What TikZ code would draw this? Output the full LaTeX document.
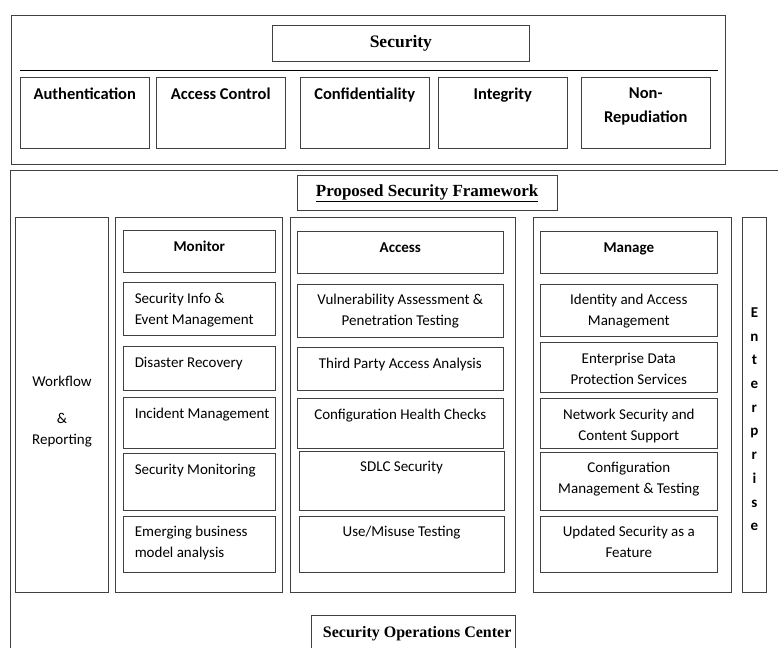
\documentclass[tikz,border=0pt]{standalone}
\usepackage{fontspec}
\setmainfont{Carlito}
\newfontfamily\titlefont{Liberation Serif}
\usetikzlibrary{positioning}

\begin{document}
\begin{tikzpicture}[x=1pt, y=-1pt, node distance=6pt, line width=0.9pt,
	box/.style={draw=black!75, inner sep=0pt, outer sep=0pt, anchor=north west},
	pillar/.style={box, minimum width=129.5pt, minimum height=71pt},
	col/.style={box, minimum height=375.4pt},
	mon/.style={box, minimum width=152pt},
	acc/.style={box, minimum width=206pt},
	man/.style={box, minimum width=177pt},
	txt/.style={inner sep=0pt, font=\fontsize{15}{21}\selectfont},
	lt/.style={txt, align=left, anchor=north west, xshift=11pt, yshift=-10pt},
	ct/.style={txt, align=center, anchor=north, yshift=-10pt},
	hd/.style={txt, font=\fontsize{15}{21}\selectfont\bfseries, anchor=base, yshift=-21.5pt},
	pt/.style={txt, align=center, font=\fontsize{16.5}{24}\selectfont\bfseries, anchor=north, yshift=-10pt},
	headline/.style={font=\fontsize{17.5}{20}\titlefont\bfseries}]
	\useasboundingbox (0,0) rectangle (778,647);
	\clip (0,0) rectangle (778,647);

	% security goals
	\node[box, minimum width=714.5pt, minimum height=149.7pt] (TOP) at (11,15) {};
	\node[box, headline, minimum width=257.7pt, minimum height=36pt] (SEC) at (272,25.7) {Security};
	\draw (20,70) -- (717.7,70);
	\node[pillar, label={[pt]north:Authentication}]	(AUTH)	at (20,77)	{};
	\node[pillar, label={[pt]north:Access Control}]	(AC)	[right=6.5pt of AUTH]	{};
	\node[pillar, label={[pt]north:Confidentiality}]	(CONF)	[right=14.5pt of AC]	{};
	\node[pillar, label={[pt]north:Integrity}]		(INT)	[right=8.5pt of CONF]	{};
	\node[pillar, label={[pt]north:Non-\\Repudiation}]	(NR)	[right=13.5pt of INT]	{};

	% framework
	\node[box, minimum width=780pt, minimum height=530pt] (FW) at (10,170) {};
	\node[box, headline, font=\fontsize{17}{20}\titlefont\bfseries, minimum width=259.7pt, minimum height=35pt] (PSF) at (297.3,175.7) {\underline{Proposed Security Framework}};

	\node[col, minimum width=93.4pt, label={[txt, align=center, anchor=north, yshift=-158pt]north:Workflow\\[16pt]\&\\Reporting}] (WR) at (15.3,217.3) {};
	\node[col, minimum width=167.7pt]	(MONF)	[right=6.3pt of WR]	{};
	\node[col, minimum width=224.6pt]	(ACCF)	[right=8pt of MONF]	{};
	\node[col, minimum width=198.2pt]	(MANF)	[right=18pt of ACCF]	{};
	\node[col, minimum width=24.2pt, label={[txt, font=\fontsize{15}{23.7}\selectfont\bfseries, align=center, anchor=north, yshift=-90pt]north:E\\n\\t\\e\\r\\p\\r\\i\\s\\e}] (ENT) [right=10.8pt of MANF] {};

	% monitor
	\node[mon, minimum height=42.3pt, label={[hd]north:Monitor}]	(MON)	at (123.3,230)	{};
	\node[mon, minimum height=53.4pt, label={[lt]north west:Security Info \&\\Event Management}]	(SIEM)	[below=10pt of MON]	{};
	\node[mon, minimum height=43.3pt, label={[lt]north west:Disaster Recovery}]	(DR)	[below=11pt of SIEM]	{};
	\node[mon, minimum height=51.4pt, label={[lt]north west:Incident Management}]	(IM)	[below=7.3pt of DR]	{};
	\node[mon, minimum height=56.7pt, label={[lt]north west:Security Monitoring}]	(SM)	[below=4.6pt of IM]	{};
	\node[mon, minimum height=56.7pt, label={[lt]north west:Emerging business\\model analysis}]	(EBM)	[below=6pt of SM]	{};

	% access
	\node[acc, minimum height=42.3pt, label={[hd]north:Access}]	(ACC)	at (297.3,231)	{};
	\node[acc, minimum height=53pt, label={[ct]north:Vulnerability Assessment \&\\Penetration Testing}]	(VAPT)	[below=10.7pt of ACC]	{};
	\node[acc, minimum height=42.3pt, label={[ct]north:Third Party Access Analysis}]	(TPA)	[below=10.7pt of VAPT]	{};
	\node[acc, minimum height=50pt, label={[ct]north:Configuration Health Checks}]	(CHC)	[below=8.3pt of TPA]	{};
	\node[acc, minimum width=205.3pt, minimum height=59pt, label={[ct]north:SDLC Security}]	(SDLC)	[below=2.7pt of CHC, xshift=1.3pt]	{};
	\node[acc, minimum width=205.3pt, minimum height=56.7pt, label={[ct]north:Use/Misuse Testing}]	(UMT)	[below=6pt of SDLC]	{};

	% manage
	\node[man, minimum height=42.3pt, label={[hd]north:Manage}]	(MAN)	at (540.3,231)	{};
	\node[man, minimum height=52.7pt, label={[ct]north:Identity and Access\\Management}]	(IAM)	[below=10.7pt of MAN]	{};
	\node[man, minimum height=49.6pt, label={[ct]north:Enterprise Data\\Protection Services}]	(EDP)	[below=6pt of IAM]	{};
	\node[man, minimum height=50.4pt, label={[ct]north:Network Security and\\Content Support}]	(NSC)	[below=6pt of EDP]	{};
	\node[man, minimum height=58pt, label={[ct]north:Configuration\\Management \& Testing}]	(CMT)	[below=3.3pt of NSC]	{};
	\node[man, minimum height=56.7pt, label={[ct]north:Updated Security as a\\Feature}]	(USF)	[below=6pt of CMT]	{};

	\node[box, minimum width=204.3pt, minimum height=60pt, label={[txt, font=\fontsize{16}{20}\titlefont\bfseries, anchor=base, xshift=4pt, yshift=-22pt]north:Security Operations Center}] (SOC) at (311,615) {};
\end{tikzpicture}
\end{document}
